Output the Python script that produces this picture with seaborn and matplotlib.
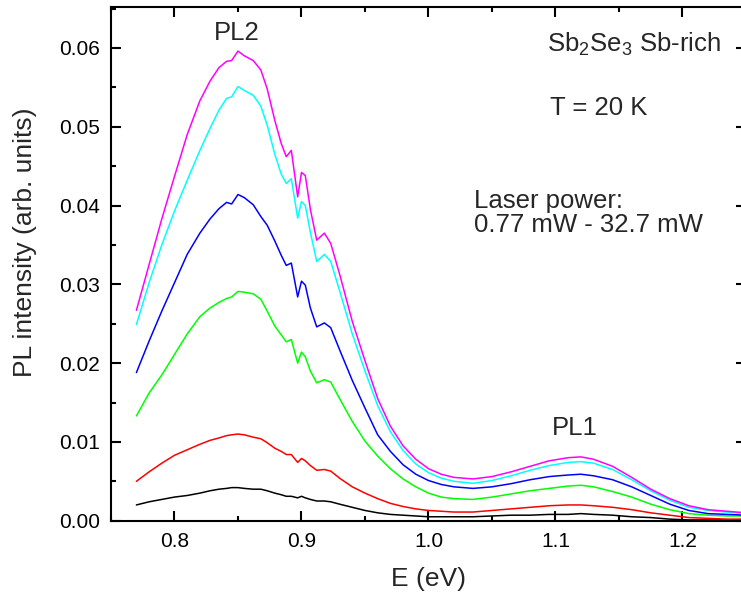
import numpy as np
import pandas as pd
import matplotlib
matplotlib.use("Agg")
import matplotlib.pyplot as plt
import seaborn as sns
from matplotlib.ticker import MultipleLocator, FormatStrFormatter

# Photon energy (eV)
energy = [0.77, 0.78, 0.79, 0.80, 0.81, 0.82, 0.828, 0.835, 0.841, 0.845, 0.85, 0.855,
          0.862, 0.868, 0.873, 0.879, 0.884, 0.888, 0.892, 0.897, 0.900, 0.903, 0.907,
          0.912, 0.918, 0.923, 0.930, 0.940, 0.950, 0.960, 0.970, 0.980, 0.990, 1.000,
          1.010, 1.020, 1.035, 1.050, 1.065, 1.080, 1.095, 1.110, 1.120, 1.130, 1.145,
          1.160, 1.175, 1.190, 1.205, 1.220, 1.235, 1.250]

pl_black = [0.0020, 0.0024, 0.0027, 0.0030, 0.0032, 0.0035, 0.0038, 0.0040, 0.0041, 0.0042,
            0.0042, 0.0041, 0.0040, 0.0040, 0.0038, 0.0035, 0.0033, 0.0031, 0.0031, 0.0029,
            0.0031, 0.0029, 0.0027, 0.0025, 0.0025, 0.0024, 0.0021, 0.0017, 0.0013, 0.0010,
            0.0008, 0.0007, 0.0006, 0.0005, 0.0005, 0.0005, 0.0005, 0.0006, 0.0007, 0.0007,
            0.0008, 0.0008, 0.0009, 0.0008, 0.0007, 0.0005, 0.0004, 0.0002, 0.0001, 0.0001,
            0.0001, 0.0001]
pl_red = [0.0050, 0.0062, 0.0073, 0.0083, 0.0090, 0.0097, 0.0102, 0.0105, 0.0108, 0.0109,
          0.0110, 0.0109, 0.0106, 0.0104, 0.0099, 0.0092, 0.0088, 0.0084, 0.0084, 0.0074,
          0.0079, 0.0076, 0.0070, 0.0064, 0.0065, 0.0063, 0.0054, 0.0043, 0.0035, 0.0028,
          0.0022, 0.0018, 0.0015, 0.0013, 0.0012, 0.0011, 0.0011, 0.0013, 0.0015, 0.0017,
          0.0019, 0.0020, 0.0020, 0.0019, 0.0017, 0.0014, 0.0010, 0.0007, 0.0004, 0.0003,
          0.0002, 0.0002]
pl_green = [0.0133, 0.0162, 0.0185, 0.0211, 0.0237, 0.0259, 0.0270, 0.0277, 0.0282, 0.0284,
            0.0291, 0.0290, 0.0288, 0.0281, 0.0266, 0.0247, 0.0236, 0.0227, 0.0230, 0.0200,
            0.0214, 0.0208, 0.0190, 0.0175, 0.0179, 0.0176, 0.0155, 0.0126, 0.0101, 0.0082,
            0.0066, 0.0053, 0.0043, 0.0035, 0.0030, 0.0028, 0.0027, 0.0030, 0.0034, 0.0038,
            0.0041, 0.0044, 0.0045, 0.0043, 0.0037, 0.0030, 0.0021, 0.0014, 0.0009, 0.0007,
            0.0006, 0.0006]
pl_blue = [0.0188, 0.0228, 0.0266, 0.0302, 0.0338, 0.0365, 0.0383, 0.0396, 0.0404, 0.0402,
           0.0414, 0.0410, 0.0401, 0.0386, 0.0375, 0.0355, 0.0337, 0.0324, 0.0327, 0.0284,
           0.0304, 0.0299, 0.0270, 0.0246, 0.0251, 0.0245, 0.0217, 0.0178, 0.0143, 0.0109,
           0.0088, 0.0071, 0.0059, 0.0051, 0.0046, 0.0043, 0.0041, 0.0043, 0.0047, 0.0052,
           0.0056, 0.0058, 0.0059, 0.0057, 0.0052, 0.0043, 0.0032, 0.0021, 0.0013, 0.0009,
           0.0008, 0.0007]
pl_cyan = [0.0249, 0.0302, 0.0350, 0.0393, 0.0432, 0.0470, 0.0498, 0.0521, 0.0536, 0.0538,
           0.0551, 0.0546, 0.0540, 0.0526, 0.0502, 0.0465, 0.0440, 0.0428, 0.0434, 0.0384,
           0.0405, 0.0400, 0.0366, 0.0329, 0.0338, 0.0329, 0.0292, 0.0237, 0.0190, 0.0146,
           0.0113, 0.0089, 0.0072, 0.0061, 0.0054, 0.0050, 0.00475, 0.0051, 0.0057, 0.0064,
           0.0070, 0.0074, 0.0075, 0.0073, 0.0065, 0.0052, 0.0038, 0.0026, 0.0017, 0.0013,
           0.0011, 0.0009]
pl_magenta = [0.0267, 0.0325, 0.0383, 0.0437, 0.0490, 0.0533, 0.0558, 0.0575, 0.0583, 0.0584,
              0.0596, 0.0590, 0.0584, 0.0572, 0.0548, 0.0508, 0.0479, 0.0462, 0.0470, 0.0411,
              0.0442, 0.0438, 0.0395, 0.0356, 0.0365, 0.0352, 0.0313, 0.0253, 0.0203, 0.0155,
              0.0120, 0.0095, 0.0078, 0.0066, 0.0059, 0.0055, 0.0053, 0.0056, 0.0062, 0.0069,
              0.0076, 0.0080, 0.0081, 0.0078, 0.0069, 0.0055, 0.0040, 0.0028, 0.0019, 0.0014,
              0.0012, 0.0010]

series_names = ["black", "red", "green", "blue", "cyan", "magenta"]
series_values = [pl_black, pl_red, pl_green, pl_blue, pl_cyan, pl_magenta]
series_colors = ["#000000", "#FF0000", "#00FF00", "#0000FF", "#00FFFF", "#FF00FF"]

df = pd.concat([pd.DataFrame({"E": energy, "I": vals, "s": name})
                for name, vals in zip(series_names, series_values)], ignore_index=True)

sns.set_style("ticks")
plt.rcParams["font.family"] = ["Liberation Sans", "DejaVu Sans"]
plt.rcParams["mathtext.fontset"] = "custom"
plt.rcParams["mathtext.rm"] = "Liberation Sans"
plt.rcParams["mathtext.it"] = "Liberation Sans"

fig = plt.figure(figsize=(7.41, 6.01), dpi=100)
ax = fig.add_axes([0.1498, 0.1336, 1.0067 - 0.1498, 0.9884 - 0.1336])

sns.lineplot(data=df, x="E", y="I", hue="s", palette=dict(zip(series_names, series_colors)),
             hue_order=series_names, estimator=None, sort=False, legend=False,
             linewidth=1.1, ax=ax)

ax.set_xlim(0.75, 1.25)
ax.set_ylim(0.0, 0.0652)
ax.xaxis.set_major_locator(MultipleLocator(0.1))
ax.xaxis.set_minor_locator(MultipleLocator(0.05))
ax.yaxis.set_major_locator(MultipleLocator(0.01))
ax.yaxis.set_minor_locator(MultipleLocator(0.005))
ax.xaxis.set_major_formatter(FormatStrFormatter("%.1f"))
ax.yaxis.set_major_formatter(FormatStrFormatter("%.2f"))

for sp in ax.spines.values():
    sp.set_visible(True)
    sp.set_linewidth(1.5)
    sp.set_color("black")
ax.tick_params(which="both", direction="in", top=True, right=True, colors="black",
               width=1.5, labelsize=15)
ax.tick_params(which="major", length=7.2, pad=8)
ax.tick_params(which="minor", length=3.8)

ax.set_xlabel("E (eV)", fontsize=19, labelpad=12)
ax.set_ylabel("PL intensity (arb. units)", fontsize=19)
ax.yaxis.set_label_coords(-0.117, 0.542)

ax.text(0.8488, 0.0619, "PL2", fontsize=18.5, ha="center", va="center")
ax.text(1.115, 0.01176, "PL1", fontsize=18.5, ha="center", va="center")
ax.text(1.093, 0.0595, r"Sb$_2$Se$_3$ Sb-rich", fontsize=18.5, ha="left", va="baseline")
ax.text(1.0953, 0.0515, "T = 20 K", fontsize=18.5, ha="left", va="baseline")
ax.text(1.0362, 0.0397, "Laser power:", fontsize=18.5, ha="left", va="baseline")
ax.text(1.0362, 0.0366, "0.77 mW - 32.7 mW", fontsize=18.5, ha="left", va="baseline")

fig.savefig("out.png", dpi=100)
